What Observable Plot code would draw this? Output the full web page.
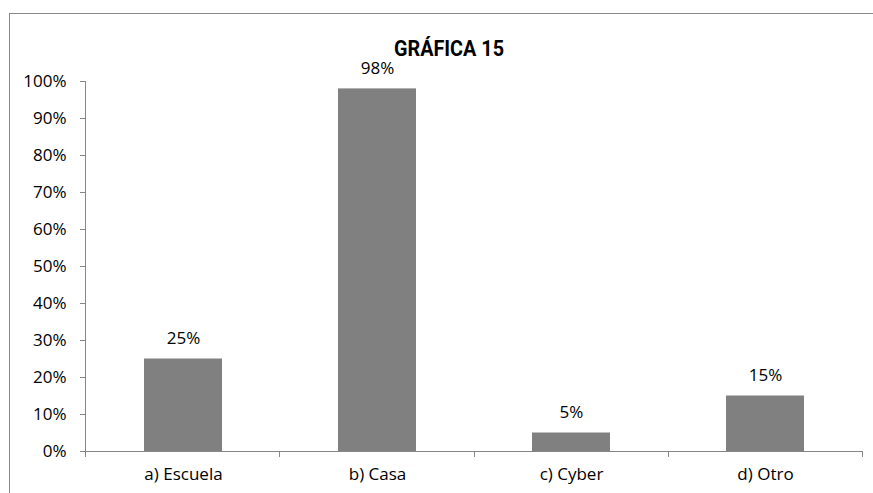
<!DOCTYPE html>
<html>
<head>
<meta charset="utf-8">
<script src="https://cdn.jsdelivr.net/npm/d3@7"></script>
<script src="https://cdn.jsdelivr.net/npm/@observablehq/plot@0.6"></script>
<style>
  html, body { margin: 0; padding: 0; background: #fff; overflow: hidden; }
  #wrap { position: relative; width: 873px; height: 493px; overflow: hidden; }
  #border { position: absolute; left: 9px; top: 13px; width: 1000px; height: 1000px; border: 1px solid #8a8a8a; box-sizing: border-box; }
  #chart { position: absolute; left: 0; top: 0; }
</style>
</head>
<body>
<div id="wrap">
  <div id="border"></div>
  <div id="chart"></div>
</div>
<script>
const titleText = "GRÁFICA 15";
const categories = ["a) Escuela", "b) Casa", "c) Cyber", "d) Otro"];
const values = [0.25, 0.98, 0.05, 0.15];
const yTicks = [0, 0.1, 0.2, 0.3, 0.4, 0.5, 0.6, 0.7, 0.8, 0.9, 1.0];

const data = categories.map((c, i) => ({cat: c, value: values[i]}));
const pct = d3.format(".0%");
const gray = "#868686";

// custom axis lines & category boundary ticks, computed from the scales/dimensions
function axisLines(index, scales, channels, dims) {
  const {y} = scales;
  const left = dims.marginLeft, right = dims.width - dims.marginRight;
  const y0 = y(0), y1 = y(1);
  const g = d3.create("svg:g").attr("stroke", gray).attr("stroke-width", 1).attr("fill", "none");
  g.append("line").attr("x1", left + 0.5).attr("x2", left + 0.5).attr("y1", y1).attr("y2", y0);
  g.append("line").attr("x1", left).attr("x2", right).attr("y1", y0 + 0.5).attr("y2", y0 + 0.5);
  const n = categories.length;
  for (let i = 0; i <= n; i++) {
    const bx = Math.round(left + i * (right - left) / n) + 0.5;
    g.append("line").attr("x1", bx).attr("x2", bx).attr("y1", y0).attr("y2", y0 + 6);
  }
  return g.node();
}

const plot = Plot.plot({
  width: 873,
  height: 493,
  marginLeft: 85,
  marginRight: 11,
  marginTop: 81,
  marginBottom: 42,
  style: {fontFamily: "'Open Sans', sans-serif", fontSize: "17px", color: "#000", background: "transparent"},
  x: {domain: categories, paddingInner: 0.6, paddingOuter: 0.3, axis: null},
  y: {domain: [0, 1], axis: null},
  marks: [
    Plot.barY(data, {x: "cat", y: "value", fill: "#808080"}),
    axisLines,
    Plot.axisY({ticks: yTicks, tickFormat: pct, tickSize: 5, tickPadding: 14, stroke: gray, fill: "#000", fontSize: 17, label: null}),
    Plot.axisX({tickSize: 0, tickPadding: 16, fill: "#000", fontSize: 17, label: null}),
    Plot.text(data, {x: "cat", y: "value", text: d => pct(d.value), dy: -20, fill: "#000", fontSize: 17}),
    Plot.text([titleText], {frameAnchor: "top", text: d => d, dy: -41, dx: -25, fontSize: 22, fontWeight: "bold",
      fontFamily: "'Liberation Sans Narrow', 'Roboto', sans-serif", fill: "#000", className: "chart-title"})
  ]
});
// condense the title to the reference's width
d3.select(plot).selectAll(".chart-title text")
  .attr("textLength", 110).attr("lengthAdjust", "spacingAndGlyphs");
document.getElementById("chart").appendChild(plot);
</script>
</body>
</html>
